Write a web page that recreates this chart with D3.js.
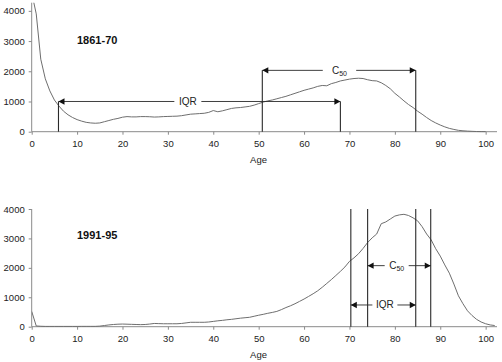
<!DOCTYPE html>
<html><head><meta charset="utf-8">
<script src="https://cdn.jsdelivr.net/npm/d3@7"></script>
<style>
body{margin:0;background:#fff;}
text{font-family:"Liberation Sans",Arial,sans-serif;}
</style></head>
<body><svg id="c" width="502" height="362"></svg>
<script>
// ---- data ----
const ages1861 = d3.range(0, 101);
const deaths1861 = [4600,3900,2400,1750,1350,1050,850,680,560,470,
 400,350,310,290,280,290,330,370,410,440,
 480,500,490,490,500,500,495,485,490,500,
 505,510,515,530,555,580,590,600,610,640,
 700,660,690,730,770,790,800,820,840,880,
 930,980,1020,1050,1090,1130,1170,1220,1270,1320,
 1370,1410,1450,1500,1530,1520,1590,1630,1680,1710,
 1740,1760,1770,1760,1720,1690,1680,1620,1530,1420,
 1270,1150,1020,900,800,680,580,470,370,290,
 220,160,110,75,45,30,20,12,6,3,2];
const ages1991 = d3.range(0, 103);
const deaths1991 = [520,25,15,10,10,10,10,10,10,10,
 10,12,12,12,12,20,40,60,75,85,
 90,85,80,75,70,75,90,110,105,100,
 100,100,100,110,130,150,150,150,150,160,
 180,200,215,235,250,270,290,305,320,355,
 390,420,455,485,520,580,650,710,780,860,
 940,1030,1120,1220,1340,1470,1600,1740,1880,2030,
 2220,2340,2480,2660,2860,3020,3150,3500,3560,3660,
 3760,3800,3820,3780,3700,3600,3400,3150,2950,2650,
 2400,2100,1820,1450,1050,780,540,380,250,160,
 100,60,40];
const xTicks = [0,10,20,30,40,50,60,70,80,90,100];
const yTicks = [0,1000,2000,3000,4000];
const titles = ["1861-70","1991-95"];
// annotations: [ageStart, ageEnd, level, labelAge, label]
const top_iqr = [5.9, 68, 1000, 34.4, "IQR"];
const top_c50 = [50.8, 84.6, 2030, 67.8, "C50"];
const bot_verticals = [70.3, 74, 84.6, 87.9];
const bot_c50 = [74, 87.9, 2075, 80.4, "C50"];
const bot_iqr = [70.3, 84.6, 738, 77.8, "IQR"];

const svg = d3.select("#c");
const axisColor = "#8a8a8a", curveColor = "#6e6e6e", annColor = "#2a2a2a";

function panel(cfg){
  const g = svg.append("g");
  const x = d3.scaleLinear().domain([0,102.5]).range([31.7,497]);
  const y = d3.scaleLinear().domain([0,cfg.yMax]).range([cfg.y0, cfg.yTop]);
  const clipId = "clip"+cfg.id;
  svg.append("clipPath").attr("id",clipId).append("rect")
    .attr("x",x(0)).attr("y",cfg.yTop).attr("width",x(102.5)-x(0)).attr("height",cfg.y0-cfg.yTop+2);
  // axes
  const ya = g.append("g").attr("transform",`translate(${x(0)},0)`)
    .call(d3.axisLeft(y).tickValues(yTicks).tickSize(3).tickPadding(4).tickFormat(d3.format("d")));
  const xa = g.append("g").attr("transform",`translate(0,${cfg.y0})`)
    .call(d3.axisBottom(x).tickValues(xTicks).tickSize(3).tickPadding(6));
  [ya,xa].forEach(a=>{
    a.select(".domain").attr("stroke",axisColor);
    a.selectAll(".tick line").attr("stroke",axisColor);
    a.selectAll("text").attr("fill","#222").style("font-size","9.5px").style("font-family","Liberation Sans, Arial, sans-serif");
  });
  ya.select(".domain").attr("d",`M-0,${cfg.y0}V${cfg.yTop}`);
  xa.select(".domain").attr("d",`M${x(0)},0H${x(102.5)}`);
  g.append("text").attr("x",258.5).attr("y",cfg.y0+31).attr("text-anchor","middle")
    .style("font-size","9.5px").attr("fill","#222").text("Age");
  g.append("text").attr("x",77).attr("y",cfg.titleY).style("font-size","11px").style("font-weight","bold")
    .attr("fill","#111").text(cfg.title);
  // curve
  const line = d3.line().x((d,i)=>x(cfg.ages[i])).y(d=>y(d));
  g.append("path").datum(cfg.vals).attr("d",line).attr("fill","none")
    .attr("stroke",curveColor).attr("stroke-width",1).attr("clip-path",`url(#${clipId})`);
  return {g,x,y};
}

function arrow(p, a, gapHalf, withVerticals){
  const [a1,a2,lev,labAge,label] = a;
  const g=p.g, x=p.x, y=p.y;
  const X1=x(a1), X2=x(a2), Y=y(lev), LX=x(labAge);
  if(withVerticals){
    g.append("line").attr("x1",X1).attr("x2",X1).attr("y1",y(0)).attr("y2",Y).attr("stroke",annColor).attr("stroke-width",1.1);
    g.append("line").attr("x1",X2).attr("x2",X2).attr("y1",y(0)).attr("y2",Y).attr("stroke",annColor).attr("stroke-width",1.1);
  }
  g.append("line").attr("x1",X1).attr("x2",LX-gapHalf).attr("y1",Y).attr("y2",Y).attr("stroke",annColor).attr("stroke-width",0.9);
  g.append("line").attr("x1",LX+gapHalf).attr("x2",X2).attr("y1",Y).attr("y2",Y).attr("stroke",annColor).attr("stroke-width",0.9);
  g.append("path").attr("d",`M${X1},${Y}L${X1+6},${Y-3.2}L${X1+6},${Y+3.2}Z`).attr("fill","#111");
  g.append("path").attr("d",`M${X2},${Y}L${X2-6},${Y-3.2}L${X2-6},${Y+3.2}Z`).attr("fill","#111");
  const t = g.append("text").attr("x",LX).attr("y",Y+3.5).attr("text-anchor","middle")
    .style("font-size","10px").attr("fill","#222");
  if(label==="C50"){
    t.append("tspan").text("C");
    t.append("tspan").attr("dy",2).style("font-size","7px").text("50");
  } else t.text(label);
}

const p1 = panel({id:1,y0:131.7,yTop:2.7,yMax:4270,ages:ages1861,vals:deaths1861,title:titles[0],titleY:44});
arrow(p1, top_iqr, 13.5, true);
arrow(p1, top_c50, 16.7, true);

const p2 = panel({id:2,y0:326.7,yTop:209,yMax:4000,ages:ages1991,vals:deaths1991,title:titles[1],titleY:239});
bot_verticals.forEach(v=>{
  p2.g.append("line").attr("x1",p2.x(v)).attr("x2",p2.x(v)).attr("y1",p2.y(0)).attr("y2",p2.y(4000))
    .attr("stroke",annColor).attr("stroke-width",1.1);
});
arrow(p2, bot_c50, 12, false);
arrow(p2, bot_iqr, 12.5, false);
</script></body></html>
